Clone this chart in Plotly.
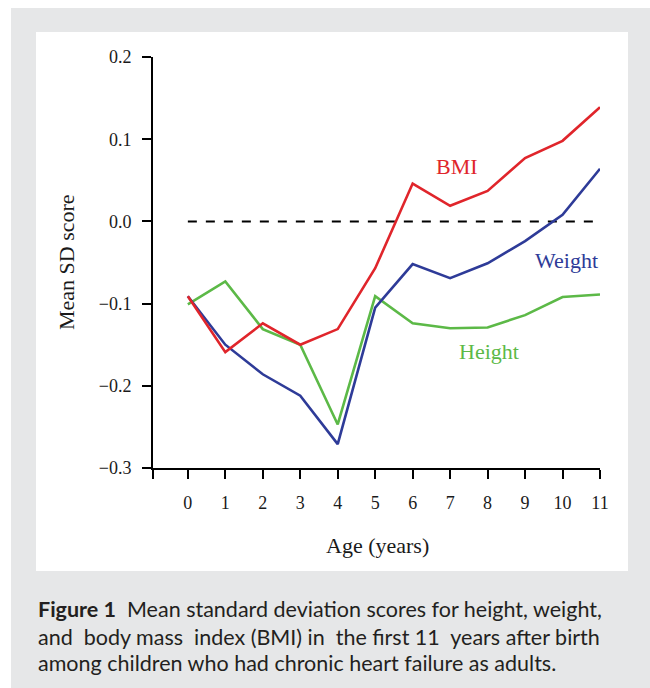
import plotly.graph_objects as go

ages = list(range(12))
bmi = [-0.091, -0.159, -0.124, -0.150, -0.131, -0.057, 0.046, 0.019, 0.037, 0.077, 0.098, 0.139]
weight = [-0.091, -0.150, -0.186, -0.212, -0.271, -0.105, -0.052, -0.069, -0.051, -0.024, 0.008, 0.064]
height = [-0.101, -0.073, -0.131, -0.150, -0.247, -0.091, -0.124, -0.130, -0.129, -0.114, -0.092, -0.089]
ref_line = [0.0] * 12

RED = "#e0252b"
BLUE = "#2e3b98"
GREEN = "#5cb947"
GRAY = "#e6e7e8"
SERIF = "Liberation Serif, Times New Roman, serif"

W, H = 650, 688
L, R, T, B = 153, 600, 57, 468  # plot area pixel box


def px(x):
    return (x - L) / (R - L)


def py(y):
    return (B - y) / (B - T)


fig = go.Figure()
fig.add_trace(go.Scatter(x=ages, y=ref_line, mode="lines",
                         line=dict(color="black", width=2, dash="dash"), hoverinfo="skip"))
fig.add_trace(go.Scatter(x=ages, y=height, mode="lines", name="Height",
                         line=dict(color=GREEN, width=2.6)))
fig.add_trace(go.Scatter(x=ages, y=weight, mode="lines", name="Weight",
                         line=dict(color=BLUE, width=2.6)))
fig.add_trace(go.Scatter(x=ages, y=bmi, mode="lines", name="BMI",
                         line=dict(color=RED, width=2.6)))

x_start = -0.93
fig.update_xaxes(range=[x_start, 11], tickvals=[x_start] + ages, ticktext=[""] + [str(a) for a in ages],
                 showline=True, linecolor="black", linewidth=2, ticks="outside", ticklen=9,
                 tickwidth=2, tickcolor="black", showgrid=False, zeroline=False, ticklabelstandoff=8,
                 tickfont=dict(family=SERIF, size=18, color="#1a1a1a"))
fig.update_yaxes(range=[-0.3, 0.2], tickvals=[-0.3, -0.2, -0.1, 0.0, 0.1, 0.2],
                 ticktext=["\u22120.3", "\u22120.2", "\u22120.1", "0.0", "0.1", "0.2"],
                 showline=True, linecolor="black", linewidth=2, ticks="outside", ticklen=9,
                 tickwidth=2, tickcolor="black", showgrid=False, zeroline=False, ticklabelstandoff=7,
                 tickfont=dict(family=SERIF, size=18, color="#1a1a1a"))

shapes = [
    dict(type="rect", xref="paper", yref="paper", x0=px(11), x1=px(W + 5), y0=py(H + 5), y1=py(8),
         fillcolor=GRAY, line=dict(width=0), layer="below"),
    dict(type="rect", xref="paper", yref="paper", x0=px(36), x1=px(628), y0=py(571), y1=py(32),
         fillcolor="white", line=dict(width=0), layer="below"),
]

annotations = [
    dict(text="BMI", x=px(457), y=py(166), font=dict(family=SERIF, size=22, color=RED)),
    dict(text="Weight", x=px(566), y=py(260), font=dict(family=SERIF, size=22, color=BLUE)),
    dict(text="Height", x=px(489), y=py(351), font=dict(family=SERIF, size=22, color=GREEN)),
    dict(text="Age (years)", x=px(377), y=py(545), font=dict(family=SERIF, size=22, color="#1a1a1a")),
    dict(text="Mean SD score", x=px(66), y=py(262), textangle=-90,
         font=dict(family=SERIF, size=22, color="#1a1a1a")),
]
for a in annotations:
    a.update(xref="paper", yref="paper", showarrow=False, xanchor="center", yanchor="middle")

CAP = "Lato, Noto Sans, sans-serif"
NB = "\u00a0"
cap_lines = [
    "<b>Figure 1</b>" + NB + " Mean standard deviation scores for height, weight,",
    "and" + NB + " body mass" + NB + " index (BMI) in" + NB + " the first 11" + NB + " years after birth",
    "among children who had chronic heart failure as adults.",
]
cap_y = [609, 637, 663]
for txt, yy in zip(cap_lines, cap_y):
    annotations.append(dict(text=txt, x=px(36), y=py(yy), xref="paper", yref="paper", showarrow=False,
                            xanchor="left", yanchor="middle",
                            font=dict(family=CAP, size=21.5, color="#231f20")))

fig.update_layout(width=W, height=H, margin=dict(l=L, r=W - R, t=T, b=H - B, pad=0),
                  paper_bgcolor="white", plot_bgcolor="rgba(0,0,0,0)", showlegend=False,
                  shapes=shapes, annotations=annotations)

fig.write_html("out.html", config={"displayModeBar": False},
               post_script="document.body.style.margin='0';document.body.style.padding='0';"
                           "document.body.style.overflow='hidden';")
